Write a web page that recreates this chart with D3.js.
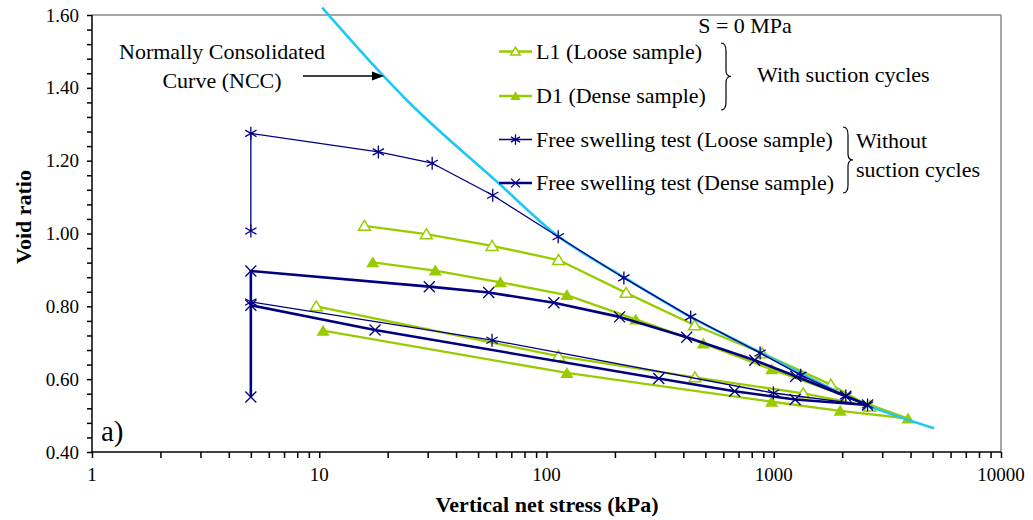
<!DOCTYPE html>
<html lang="en">
<head>
    <meta charset="UTF-8">
    <title>Void ratio vs vertical net stress</title>
    <script src="https://d3js.org/d3.v7.min.js"></script>
    <style>
        body {
            margin: 0;
            background: #fff;
        }
        svg text {
            font-family: "Liberation Serif", "Times New Roman", serif;
        }
    </style>
</head>
<body>
    <div id="chart"></div>

    <script>
        // values (stress in kPa, void ratio)
        const nccStress = [10.3, 19.2, 24.3, 60.6, 111, 219, 431, 871, 2587, 5080];
        const nccVoid   = [1.62, 1.432, 1.366, 1.142, 0.995, 0.88, 0.771, 0.674, 0.528, 0.465];

        const l1Stress = [15.8, 29.6, 57.6, 113, 224, 449, 890, 1783, 2650, 1346, 450, 113, 9.7];
        const l1Void   = [1.021, 0.998, 0.966, 0.927, 0.837, 0.748, 0.671, 0.585, 0.525, 0.561, 0.605, 0.663, 0.80];

        const d1Stress = [17.2, 32.4, 62.7, 123, 247, 490, 980, 3900, 1960, 980, 123, 10.4];
        const d1Void   = [0.921, 0.898, 0.866, 0.831, 0.764, 0.698, 0.627, 0.492, 0.513, 0.538, 0.617, 0.733];

        const fsLooseStress = [5, 5, 18.2, 31.4, 58, 112.6, 219, 431, 871, 1315, 2075, 2587, 997, 57.6, 5];
        const fsLooseVoid   = [1.007, 1.275, 1.224, 1.193, 1.105, 0.991, 0.878, 0.771, 0.672, 0.611, 0.554, 0.529, 0.562, 0.707, 0.812];

        const fsDenseStress = [5, 5, 30.5, 55.7, 107.8, 209.7, 414, 825, 1250, 2075, 2587, 1242, 673, 312, 17.6, 5];
        const fsDenseVoid   = [0.551, 0.897, 0.854, 0.838, 0.810, 0.771, 0.715, 0.652, 0.608, 0.553, 0.529, 0.544, 0.567, 0.602, 0.735, 0.803];

        const xTicks = [1, 10, 100, 1000, 10000];
        const yTicks = [0.40, 0.60, 0.80, 1.00, 1.20, 1.40, 1.60];

        const legendLabels = ["L1 (Loose sample)", "D1 (Dense sample)",
            "Free swelling test (Loose sample)", "Free swelling test (Dense sample)"];

        const width = 1033, height = 520;
        const green = "#99CC00", navy = "#000080", cyan = "#1EC8F5";

        const x = d3.scaleLog().domain([1, 10000]).range([92, 1001]);
        const y = d3.scaleLinear().domain([0.4, 1.6]).range([452, 15]);

        const svg = d3.select("#chart").append("svg")
            .attr("width", width)
            .attr("height", height);

        const zip = (xs, ys) => xs.map((v, i) => [v, ys[i]]);

        // frame: top and right in grey
        svg.append("line").attr("x1", x(1)).attr("x2", x(10000)).attr("y1", y(1.6)).attr("y2", y(1.6))
            .attr("stroke", "#888").attr("stroke-width", 1.5);
        svg.append("line").attr("x1", x(10000)).attr("x2", x(10000)).attr("y1", y(1.6)).attr("y2", y(0.4))
            .attr("stroke", "#888").attr("stroke-width", 1.5);

        // x axis
        const minorX = [];
        for (let d = 1; d < 10000; d *= 10) for (let k = 1; k < 10; k++) minorX.push(d * k);
        minorX.push(10000);
        const xAxis = d3.axisBottom(x).tickValues(minorX).tickSize(6).tickFormat("");
        const gx = svg.append("g").attr("transform", `translate(0,${y(0.4)})`).call(xAxis);
        gx.selectAll("path, line").attr("stroke", "#000").attr("stroke-width", 1.5);
        gx.select(".domain").attr("d", `M${x(1)},0H${x(10000)}`);

        svg.selectAll(".xlab").data(xTicks).enter().append("text")
            .attr("x", d => x(d)).attr("y", 481)
            .attr("text-anchor", "middle").attr("font-size", 19)
            .text(d => d);

        // y axis
        const minorY = d3.range(0, 31).map(i => 0.4 + i * 0.04);
        const yAxis = d3.axisLeft(y).tickValues(minorY).tickSize(5).tickFormat("");
        const gy = svg.append("g").attr("transform", `translate(${x(1)},0)`).call(yAxis);
        gy.selectAll("path, line").attr("stroke", "#000").attr("stroke-width", 1.5);
        gy.select(".domain").attr("d", `M0,${y(0.4)}V${y(1.6)}`);

        svg.selectAll(".ylab").data(yTicks).enter().append("text")
            .attr("x", 79).attr("y", d => y(d) + 6.5)
            .attr("text-anchor", "end").attr("font-size", 19)
            .text(d => d.toFixed(2));

        svg.append("text")
            .attr("transform", "translate(31,217) rotate(-90)")
            .attr("text-anchor", "middle").attr("font-size", 22).attr("font-weight", "bold")
            .text("Void ratio");
        svg.append("text")
            .attr("x", 547).attr("y", 512)
            .attr("text-anchor", "middle").attr("font-size", 22).attr("font-weight", "bold")
            .text("Vertical net stress (kPa)");

        // marker shapes
        const tri = s => `M0,${-s * 0.55}L${s * 0.6},${s * 0.45}L${-s * 0.6},${s * 0.45}Z`;
        const star = r => {
            const a = r * 0.87, b = r * 0.5;
            return `M0,${-r}V${r}M${-a},${-b}L${a},${b}M${-a},${b}L${a},${-b}`;
        };
        const cross = r => `M${-r},${-r}L${r},${r}M${-r},${r}L${r},${-r}`;

        const series = [
            { pts: zip(l1Stress, l1Void), color: green, w: 2.3, marker: "open" },
            { pts: zip(d1Stress, d1Void), color: green, w: 2.3, marker: "fill" },
            { pts: zip(nccStress, nccVoid), color: cyan, w: 2.6, marker: null, curve: true },
            { pts: zip(fsLooseStress, fsLooseVoid), color: navy, w: 1.3, marker: "star" },
            { pts: zip(fsDenseStress, fsDenseVoid), color: navy, w: 2.6, marker: "cross" }
        ];

        function drawMarker(g, type, color, scale) {
            if (type === "open") {
                g.append("path").attr("d", tri(10 * scale)).attr("fill", "#fff")
                    .attr("stroke", color).attr("stroke-width", 1.5);
            } else if (type === "fill") {
                g.append("path").attr("d", tri(11 * scale)).attr("fill", color);
            } else if (type === "star") {
                g.append("path").attr("d", star(6.5 * scale)).attr("fill", "none")
                    .attr("stroke", color).attr("stroke-width", 1.3);
            } else if (type === "cross") {
                g.append("path").attr("d", cross(5.5 * scale)).attr("fill", "none")
                    .attr("stroke", color).attr("stroke-width", 1.3);
            }
        }

        series.forEach(s => {
            const gen = d3.line().x(d => x(d[0])).y(d => y(d[1]));
            if (s.curve) gen.curve(d3.curveMonotoneX);
            svg.append("path").datum(s.pts)
                .attr("d", gen)
                .attr("fill", "none")
                .attr("stroke", s.color)
                .attr("stroke-width", s.w)
                .attr("stroke-linejoin", "round");
            if (s.marker) {
                s.pts.forEach(p => {
                    const g = svg.append("g").attr("transform", `translate(${x(p[0])},${y(p[1])})`);
                    drawMarker(g, s.marker, s.color, 1);
                });
            }
        });

        // legend
        svg.append("text").attr("x", 745).attr("y", 33)
            .attr("text-anchor", "middle").attr("font-size", 22).text("S = 0 MPa");

        const legendRows = [
            { y: 51.5, color: green, w: 2.3, marker: "open" },
            { y: 96, color: green, w: 2.3, marker: "fill" },
            { y: 139.5, color: navy, w: 1.3, marker: "star" },
            { y: 183, color: navy, w: 2.6, marker: "cross" }
        ];
        legendRows.forEach((r, i) => {
            svg.append("line").attr("x1", 499).attr("x2", 532).attr("y1", r.y).attr("y2", r.y)
                .attr("stroke", r.color).attr("stroke-width", r.w);
            const g = svg.append("g").attr("transform", `translate(515.5,${r.y})`);
            drawMarker(g, r.marker, r.color, 0.8);
            svg.append("text").attr("x", 536).attr("y", r.y + 7)
                .attr("font-size", 22).text(legendLabels[i]);
        });

        // curly braces
        function brace(xL, y0, y1, w) {
            const ym = (y0 + y1) / 2, c = w / 2;
            return `M${xL},${y0} Q${xL + c},${y0} ${xL + c},${y0 + 8} L${xL + c},${ym - 6} Q${xL + c},${ym} ${xL + w},${ym}` +
                ` Q${xL + c},${ym} ${xL + c},${ym + 6} L${xL + c},${y1 - 8} Q${xL + c},${y1} ${xL},${y1}`;
        }
        svg.append("path").attr("d", brace(721, 43, 110, 10))
            .attr("fill", "none").attr("stroke", "#000").attr("stroke-width", 1.2);
        svg.append("path").attr("d", brace(843, 127, 193, 10))
            .attr("fill", "none").attr("stroke", "#000").attr("stroke-width", 1.2);

        svg.append("text").attr("x", 757).attr("y", 82).attr("font-size", 22).text("With suction cycles");
        svg.append("text").attr("x", 856).attr("y", 148).attr("font-size", 22).text("Without");
        svg.append("text").attr("x", 856).attr("y", 177).attr("font-size", 22).text("suction cycles");

        // NCC annotation
        svg.append("text").attr("x", 222).attr("y", 59)
            .attr("text-anchor", "middle").attr("font-size", 22).text("Normally Consolidated");
        svg.append("text").attr("x", 222).attr("y", 88)
            .attr("text-anchor", "middle").attr("font-size", 22).text("Curve (NCC)");
        svg.append("line").attr("x1", 303).attr("x2", 374).attr("y1", 76).attr("y2", 76)
            .attr("stroke", "#000").attr("stroke-width", 1.5);
        svg.append("path").attr("d", "M384,76L372,71.5L372,80.5Z").attr("fill", "#000");

        svg.append("text").attr("x", 101).attr("y", 441).attr("font-size", 29).text("a)");
    </script>
</body>
</html>
